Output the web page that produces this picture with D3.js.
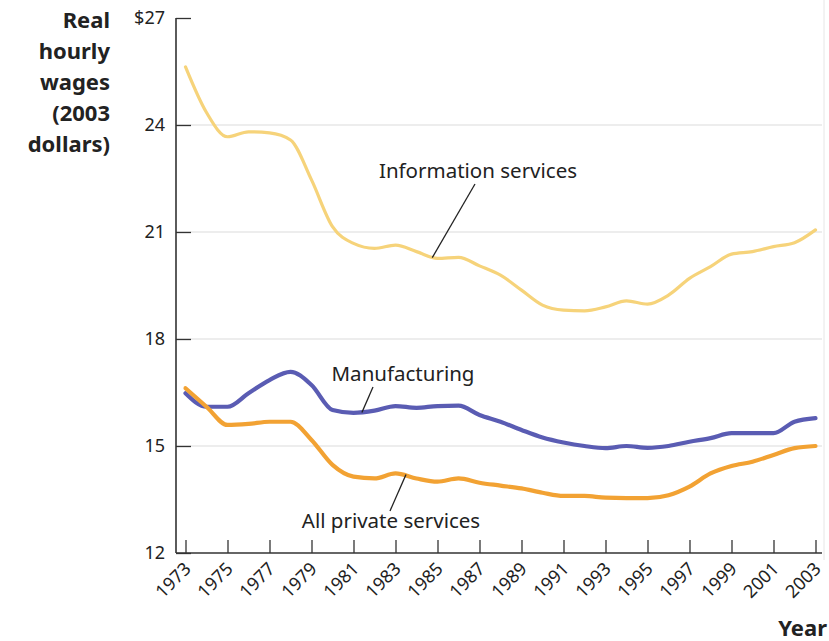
<!DOCTYPE html>
<html>
<head>
<meta charset="utf-8">
<script src="https://cdn.jsdelivr.net/npm/d3@7"></script>
<style>
  body { margin: 0; background: #fff; }
  svg { display: block; }
  text { font-family: "Noto Sans", "Open Sans", sans-serif; fill: #222; }
</style>
</head>
<body>
<svg id="chart" width="829" height="641"></svg>
<script>
const years = d3.range(1973, 2004);
const informationServices = [25.63, 24.35, 23.67, 23.81, 23.78, 23.58, 22.46, 21.15, 20.68, 20.54,
  20.63, 20.45, 20.26, 20.29, 20.05, 19.79, 19.37, 18.95, 18.81, 18.79,
  18.90, 19.07, 18.98, 19.23, 19.70, 20.03, 20.38, 20.45, 20.59, 20.70, 21.06];
const manufacturing = [16.48, 16.10, 16.10, 16.48, 16.85, 17.08, 16.71, 16.01, 15.93, 15.99,
  16.12, 16.07, 16.12, 16.13, 15.87, 15.68, 15.45, 15.24, 15.10, 15.00,
  14.94, 15.00, 14.95, 15.00, 15.12, 15.22, 15.36, 15.36, 15.36, 15.68, 15.78];
const privateServices = [16.62, 16.10, 15.59, 15.62, 15.68, 15.68, 15.17, 14.47, 14.14, 14.09,
  14.23, 14.09, 14.00, 14.09, 13.97, 13.89, 13.81, 13.69, 13.60, 13.60,
  13.55, 13.54, 13.54, 13.62, 13.86, 14.23, 14.44, 14.56, 14.75, 14.94, 15.00];
const yTicks = [12, 15, 18, 21, 24, 27];
const xTicks = d3.range(1973, 2004, 2);
const yTitle = ["Real", "hourly", "wages", "(2003", "dollars)"];
const seriesNames = ["Information services", "Manufacturing", "All private services"];

const svg = d3.select("#chart");
const x = d3.scaleLinear().domain([1973, 2003]).range([185.5, 815.5]);
const y = d3.scaleLinear().domain([12, 27]).range([553, 18]);

// gridlines
svg.append("g").selectAll("line")
  .data(yTicks.filter(d => d > 12 && d < 27))
  .join("line")
  .attr("x1", 176).attr("x2", 822)
  .attr("y1", d => y(d)).attr("y2", d => y(d))
  .attr("stroke", "#dcdcdc").attr("stroke-width", 1.2);

// faint right border
svg.append("line").attr("x1", 824).attr("x2", 824).attr("y1", 0).attr("y2", 560)
  .attr("stroke", "#e6e6e6").attr("stroke-width", 1);

// y axis
const yAxis = d3.axisLeft(y).tickValues(yTicks).tickSize(-15).tickPadding(11)
  .tickFormat(d => d === 27 ? "$27" : d);
const gy = svg.append("g").attr("transform", "translate(176,0)").call(yAxis);
gy.select(".domain").remove();
gy.selectAll(".tick line").attr("stroke", "#333").attr("stroke-width", 1.3);
gy.selectAll(".tick text").attr("font-size", 18).attr("fill", "#222")
  .attr("font-family", "Noto Sans");

// x axis
const xAxis = d3.axisBottom(x).tickValues(xTicks).tickSize(-13).tickPadding(0).tickFormat(d3.format("d"));
const gx = svg.append("g").attr("transform", "translate(0,553)").call(xAxis);
gx.select(".domain").remove();
gx.selectAll(".tick line").attr("stroke", "#333").attr("stroke-width", 1.3);
gx.selectAll(".tick text").attr("font-size", 18).attr("fill", "#222")
  .attr("font-family", "Noto Sans")
  .attr("text-anchor", "end")
  .attr("y", 0)
  .attr("dy", 0)
  .attr("transform", "translate(6,17) rotate(-45)");

// axis lines
svg.append("line").attr("x1", 176).attr("x2", 176).attr("y1", y(27)).attr("y2", y(12))
  .attr("stroke", "#333").attr("stroke-width", 1.6);
svg.append("line").attr("x1", 176).attr("x2", 822).attr("y1", y(12)).attr("y2", y(12))
  .attr("stroke", "#333").attr("stroke-width", 1.6);

// lines
const line = d3.line().x((d, i) => x(years[i])).y(d => y(d)).curve(d3.curveMonotoneX);
const seriesData = [informationServices, manufacturing, privateServices];
const colors = ["#f6d37a", "#5a5cb3", "#f2a233"];
const widths = [3.2, 4.2, 4.2];
svg.append("g").selectAll("path")
  .data(seriesData)
  .join("path")
  .attr("d", d => line(d))
  .attr("fill", "none")
  .attr("stroke", (d, i) => colors[i])
  .attr("stroke-width", (d, i) => widths[i])
  .attr("stroke-linejoin", "round")
  .attr("stroke-linecap", "round");

// annotations
const ann = [
  { name: seriesNames[0], tx: 478, ty: 178, lx1: 475, ly1: 184, year: 1984.75, val: 20.28 },
  { name: seriesNames[1], tx: 403, ty: 381, lx1: 373, ly1: 387, year: 1981.4, val: 15.94 },
  { name: seriesNames[2], tx: 391, ty: 528, lx1: 390, ly1: 511, year: 1983.5, val: 14.2 }
];
const ga = svg.append("g");
ga.selectAll("line").data(ann).join("line")
  .attr("x1", d => d.lx1).attr("y1", d => d.ly1)
  .attr("x2", d => x(d.year)).attr("y2", d => y(d.val))
  .attr("stroke", "#222").attr("stroke-width", 1.3);
ga.selectAll("text").data(ann).join("text")
  .attr("x", d => d.tx).attr("y", d => d.ty)
  .attr("text-anchor", "middle").attr("font-size", 20.5)
  .text(d => d.name);

// y title
svg.append("g").selectAll("text").data(yTitle).join("text")
  .attr("x", 110).attr("y", (d, i) => 28 + i * 31)
  .attr("text-anchor", "end").attr("font-size", 22).attr("font-weight", "bold")
  .text(d => d);

// x title
svg.append("text").attr("x", 827).attr("y", 636).attr("text-anchor", "end")
  .attr("font-size", 22).attr("font-weight", "bold").text("Year");
</script>
</body>
</html>
